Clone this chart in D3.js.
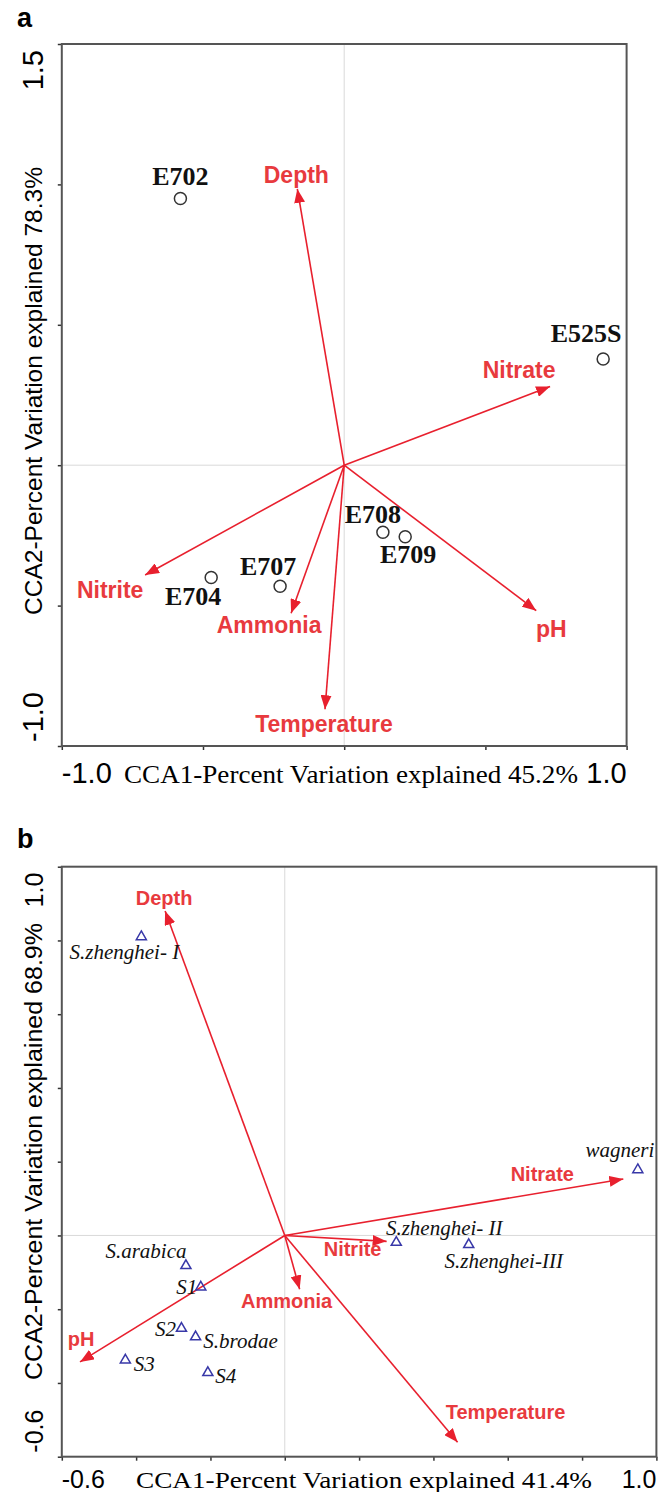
<!DOCTYPE html>
<html>
<head>
<meta charset="utf-8">
<script src="https://d3js.org/d3.v7.min.js"></script>
<style>
  body { margin: 0; background: #fff; }
  svg { display: block; }
</style>
</head>
<body>
<div id="chart"></div>
<script>
// ---- panel a : sites ----
var siteNames = ["E702", "E525S", "E708", "E709", "E704", "E707"]
var siteCCA1 = [-0.58, 0.917, 0.137, 0.216, -0.471, -0.227]
var siteCCA2 = [0.95, 0.378, -0.239, -0.255, -0.40, -0.431]

var envNames = ["Depth", "Nitrate", "Nitrite", "Ammonia", "Temperature", "pH"]
var envA1 = [-0.166, 0.729, -0.705, -0.188, -0.068, 0.68]
var envA2 = [0.984, 0.28, -0.391, -0.527, -0.869, -0.518]

// ---- panel b : species ----
var speciesNames = ["S.zhenghei- I", "wagneri", "S.zhenghei- II", "S.zhenghei-III", "S.arabica",
                    "S1", "S2", "S.brodae", "S3", "S4"]
var speciesCCA1 = [-0.386, 0.950, 0.300, 0.495, -0.266, -0.226, -0.278, -0.240, -0.429, -0.207]
var speciesCCA2 = [0.810, 0.178, -0.019, -0.025, -0.082, -0.140, -0.252, -0.275, -0.338, -0.372]

var envB1 = [-0.322, 0.911, 0.274, 0.040, 0.465, -0.551]
var envB2 = [0.880, 0.153, -0.016, -0.146, -0.561, -0.343]

// axis ticks
var ticksA_x = [-1, -0.5, 0, 0.5, 1]
var ticksA_y = [-1, -0.5, 0, 0.5, 1, 1.5]
var ticksB = [-0.6, -0.4, -0.2, 0, 0.2, 0.4, 0.6, 0.8, 1.0]

// label nudges in pixels (layout, not data)
var siteNudge = {
    "E702": [0, -13], "E525S": [-17, -17], "E708": [-10, -9],
    "E709": [3, 26], "E704": [-18, 27], "E707": [-12, -11]
}
var envNudgeA = {
    "Depth": [-1, -6], "Nitrate": [-31, -9], "Nitrite": [-35, 23],
    "Ammonia": [-22, 20], "Temperature": [-1, 23], "pH": [15, 26]
}
var speciesNudge = {
    "S.zhenghei- I": [-17, 22], "wagneri": [-18, -13], "S.zhenghei- II": [48, -7],
    "S.zhenghei-III": [35, 23], "S.arabica": [-40, -8], "S1": [-14, 7],
    "S2": [-16, 8], "S.brodae": [45, 11], "S3": [19, 11], "S4": [18, 10]
}
var envNudgeB = {
    "Depth": [-1, -6], "Nitrate": [-81, 2], "Nitrite": [-34, 15],
    "Ammonia": [-13, 19], "Temperature": [48, -23], "pH": [1, -16]
}

var RED = '#e8202e'
var RED_TEXT = '#e83a3e'
var SANS = 'Liberation Sans, Arial, sans-serif'
var SERIF = 'Liberation Serif, Times New Roman, serif'

var svg = d3.select('#chart').append('svg')
    .attr('width', 665)
    .attr('height', 1492)

var defs = svg.append('defs')
defs.append('marker')
    .attr('id', 'arrow')
    .attr('markerUnits', 'userSpaceOnUse')
    .attr('markerWidth', 15)
    .attr('markerHeight', 11)
    .attr('refX', 14)
    .attr('refY', 5.5)
    .attr('orient', 'auto')
    .append('path')
    .attr('d', 'M0,0 L14,5.5 L0,11 Z')
    .attr('fill', RED)

function drawPanel(cfg) {
    var x = d3.scaleLinear().domain(cfg.xDomain).range([cfg.left, cfg.right])
    var y = d3.scaleLinear().domain(cfg.yDomain).range([cfg.bottom, cfg.top])
    var g = svg.append('g')

    // panel letter
    g.append('text')
        .attr('x', 17).attr('y', cfg.letterY)
        .attr('font-family', SANS).attr('font-weight', 'bold')
        .attr('font-size', 27)
        .text(cfg.letter)

    // zero cross lines
    g.append('line')
        .attr('x1', x(0)).attr('x2', x(0))
        .attr('y1', cfg.top).attr('y2', cfg.bottom)
        .attr('stroke', '#d9d9d9').attr('stroke-width', 1)
    g.append('line')
        .attr('x1', cfg.left).attr('x2', cfg.right)
        .attr('y1', y(0)).attr('y2', y(0))
        .attr('stroke', '#d9d9d9').attr('stroke-width', 1)

    // tick marks only, labels drawn separately
    var xAxis = d3.axisBottom(x).tickValues(cfg.xTicks).tickFormat('')
        .tickSizeInner(4).tickSizeOuter(0)
    var yAxis = d3.axisLeft(y).tickValues(cfg.yTicks).tickFormat('')
        .tickSizeInner(4).tickSizeOuter(0)
    var gx = g.append('g').attr('transform', 'translate(0,' + cfg.bottom + ')').call(xAxis)
    var gy = g.append('g').attr('transform', 'translate(' + cfg.left + ',0)').call(yAxis)
    gx.select('.domain').remove()
    gy.select('.domain').remove()
    g.selectAll('.tick line').attr('stroke', '#333').attr('stroke-width', 1.5)

    // frame
    g.append('rect')
        .attr('x', cfg.left).attr('y', cfg.top)
        .attr('width', cfg.right - cfg.left).attr('height', cfg.bottom - cfg.top)
        .attr('fill', 'none').attr('stroke', '#555').attr('stroke-width', 2)

    // end tick labels
    var xd = cfg.xDomain, yd = cfg.yDomain
    var fmt = function (v) { return d3.format('.1f')(v).replace('−', '-') }
    g.append('text')
        .attr('x', cfg.left).attr('y', cfg.xLabelY)
        .attr('font-family', SANS).attr('font-size', cfg.tickFont)
        .text(fmt(xd[0]))
    g.append('text')
        .attr('x', cfg.right).attr('y', cfg.xLabelY)
        .attr('text-anchor', 'end')
        .attr('font-family', SANS).attr('font-size', cfg.tickFont)
        .text(fmt(xd[1]))
    g.append('text')
        .attr('transform', 'translate(43,' + (cfg.top + 6) + ') rotate(-90)')
        .attr('text-anchor', 'end')
        .attr('font-family', SANS).attr('font-size', cfg.tickFont)
        .text(fmt(yd[1]))
    g.append('text')
        .attr('transform', 'translate(43,' + (cfg.bottom - 4) + ') rotate(-90)')
        .attr('font-family', SANS).attr('font-size', cfg.tickFont)
        .text(fmt(yd[0]))

    // axis titles
    g.append('text')
        .attr('x', cfg.xTitleX).attr('y', cfg.xLabelY)
        .attr('font-family', SERIF).attr('font-size', cfg.titleFont)
        .attr('textLength', cfg.xTitleLen).attr('lengthAdjust', 'spacingAndGlyphs')
        .text(cfg.xTitle)
    g.append('text')
        .attr('transform', 'translate(42,' + cfg.yTitleStart + ') rotate(-90)')
        .attr('font-family', SANS).attr('font-size', cfg.titleFont - 1)
        .attr('textLength', cfg.yTitleLen).attr('lengthAdjust', 'spacingAndGlyphs')
        .text(cfg.yTitle)

    // environmental arrows
    var env = cfg.envNames.map(function (n, i) { return { name: n, c1: cfg.env1[i], c2: cfg.env2[i] } })
    g.selectAll('line.env').data(env).enter().append('line')
        .attr('class', 'env')
        .attr('x1', x(0)).attr('y1', y(0))
        .attr('x2', function (d) { return x(d.c1) })
        .attr('y2', function (d) { return y(d.c2) })
        .attr('stroke', RED).attr('stroke-width', 1.6)
        .attr('marker-end', 'url(#arrow)')
    g.selectAll('text.env').data(env).enter().append('text')
        .attr('class', 'env')
        .attr('x', function (d) { return x(d.c1) + cfg.envNudge[d.name][0] })
        .attr('y', function (d) { return y(d.c2) + cfg.envNudge[d.name][1] })
        .attr('text-anchor', 'middle')
        .attr('font-family', SANS).attr('font-weight', 'bold')
        .attr('font-size', cfg.envFont)
        .attr('fill', RED_TEXT)
        .text(function (d) { return d.name })

    // points
    var pts = cfg.ptNames.map(function (n, i) { return { name: n, c1: cfg.pt1[i], c2: cfg.pt2[i] } })
    if (cfg.symbol === 'circle') {
        g.selectAll('circle.pt').data(pts).enter().append('circle')
            .attr('class', 'pt')
            .attr('cx', function (d) { return x(d.c1) })
            .attr('cy', function (d) { return y(d.c2) })
            .attr('r', 6)
            .attr('fill', 'none').attr('stroke', '#333').attr('stroke-width', 1.5)
    } else {
        var tri = d3.symbol().type(d3.symbolTriangle).size(44)
        g.selectAll('path.pt').data(pts).enter().append('path')
            .attr('class', 'pt')
            .attr('d', tri)
            .attr('transform', function (d) { return 'translate(' + x(d.c1) + ',' + y(d.c2) + ')' })
            .attr('fill', 'none').attr('stroke', '#3838a8').attr('stroke-width', 1.5)
    }
    g.selectAll('text.pt').data(pts).enter().append('text')
        .attr('class', 'pt')
        .attr('x', function (d) { return x(d.c1) + cfg.ptNudge[d.name][0] })
        .attr('y', function (d) { return y(d.c2) + cfg.ptNudge[d.name][1] })
        .attr('text-anchor', 'middle')
        .attr('font-family', SERIF)
        .attr('font-weight', cfg.ptWeight)
        .attr('font-style', cfg.ptStyle)
        .attr('font-size', cfg.ptFont)
        .attr('fill', '#111')
        .text(function (d) { return d.name })
}

drawPanel({
    letter: 'a', letterY: 27,
    left: 61.8, right: 626.6, top: 44, bottom: 746,
    xDomain: [-1, 1], yDomain: [-1, 1.5],
    xTicks: ticksA_x, yTicks: ticksA_y,
    tickFont: 29, xLabelY: 783,
    titleFont: 25,
    xTitle: 'CCA1-Percent Variation explained 45.2%', xTitleX: 124, xTitleLen: 454,
    yTitle: 'CCA2-Percent Variation explained 78.3%', yTitleStart: 615, yTitleLen: 448,
    envNames: envNames, env1: envA1, env2: envA2, envNudge: envNudgeA, envFont: 23,
    ptNames: siteNames, pt1: siteCCA1, pt2: siteCCA2, ptNudge: siteNudge,
    symbol: 'circle', ptFont: 26, ptWeight: 'bold', ptStyle: 'normal'
})

drawPanel({
    letter: 'b', letterY: 848,
    left: 61.8, right: 656.4, top: 866.7, bottom: 1456.7,
    xDomain: [-0.6, 1.0], yDomain: [-0.6, 1.0],
    xTicks: ticksB, yTicks: ticksB,
    tickFont: 25, xLabelY: 1488,
    titleFont: 24,
    xTitle: 'CCA1-Percent Variation explained 41.4%', xTitleX: 136, xTitleLen: 456,
    yTitle: 'CCA2-Percent Variation explained 68.9%', yTitleStart: 1380, yTitleLen: 457,
    envNames: envNames, env1: envB1, env2: envB2, envNudge: envNudgeB, envFont: 20,
    ptNames: speciesNames, pt1: speciesCCA1, pt2: speciesCCA2, ptNudge: speciesNudge,
    symbol: 'triangle', ptFont: 21, ptWeight: 'normal', ptStyle: 'italic'
})
</script>
</body>
</html>
